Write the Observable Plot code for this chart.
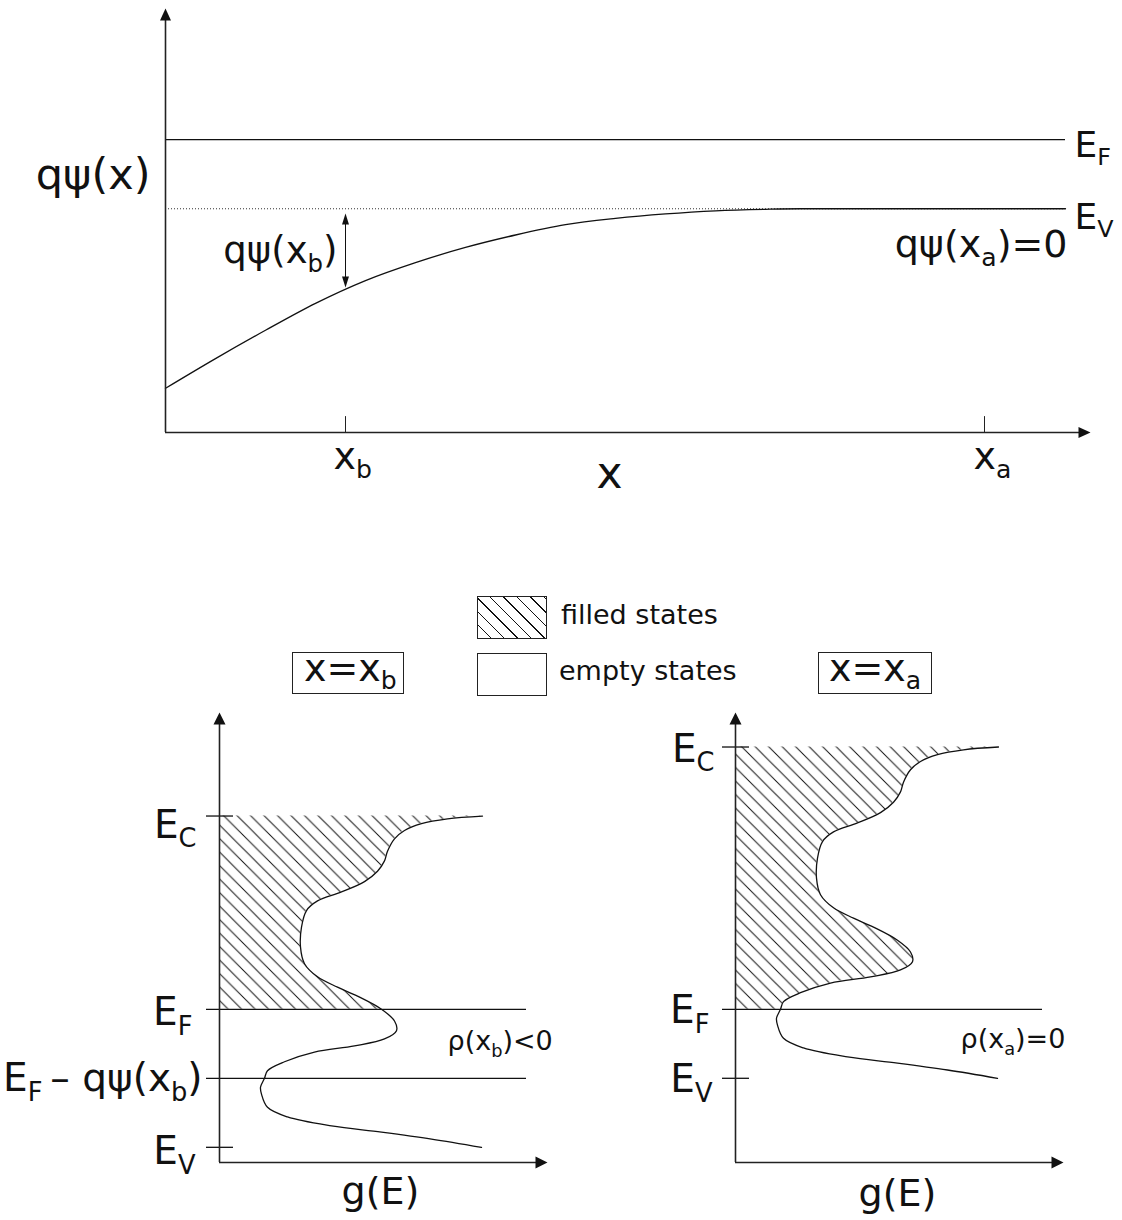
<!DOCTYPE html>
<html><head><meta charset="utf-8">
<script src="https://cdn.jsdelivr.net/npm/d3@7"></script>
<script src="https://cdn.jsdelivr.net/npm/@observablehq/plot@0.6"></script>
<style>
body{margin:0;background:#fff;font-family:"DejaVu Sans",sans-serif;}
#root{position:relative;width:1122px;height:1220px;overflow:hidden;background:#fff;}
#root svg{position:absolute;}
.box{position:absolute;border:1px solid #222;box-sizing:border-box;}
.lbl{position:absolute;white-space:nowrap;line-height:normal;color:#111;}
.lbl sub{font-size:66%;vertical-align:baseline;position:relative;top:0.3em;}
</style></head><body><div id="root"></div>
<script>
// ---------- data ----------
// top panel: band edge energy vs position (energy relative to E_V at x_a; 1 unit = q psi(x_b))
const bandX = [0, 0.5, 1.0, 1.5, 2.0, 2.5, 3.0, 3.5, 4.0, 4.5, 5.0, 5.5, 6.0, 6.35, 9.0];
const bandE = [-2.60, -2.17, -1.76, -1.37, -1.04, -0.78, -0.56, -0.38, -0.23, -0.14, -0.075, -0.03, -0.008, 0, 0];
const levelEF = 1.0, levelEV = 0;
const xb = 1.80, xa = 8.19, xEnd = 9.25, lineEnd = 9.0;
const topYMin = -3.24, topYMax = 2.90;

// density of states g(E) with E measured from the valence band edge E_V
const dosE = [4.80,4.76,4.69,4.59,4.47,4.29,4.15,4.00,3.85,3.70,3.57,3.43,3.19,2.90,2.66,2.47,2.32,2.19,2.00,1.83,1.69,1.57,1.47,1.38,1.24,1.11,1.00,0.87,0.77,0.58,0.44,0.31,0.22,0.12,0.00];
const dosG = [2.63,2.28,2.02,1.85,1.75,1.68,1.65,1.58,1.45,1.22,0.98,0.87,0.82,0.81,0.85,0.98,1.18,1.38,1.62,1.75,1.77,1.65,1.35,0.95,0.65,0.48,0.45,0.41,0.42,0.48,0.68,1.12,1.62,2.12,2.62];
const EF = 0;                 // Fermi level (bottom panels)
const qpsiB = 1.0;            // band bending at x_b
const evA = -1.0;             // E_V at x_a, relative to E_F
const evB = evA - qpsiB;      // E_V at x_b
const eMin = -2.22, eMax = 4.30, gMax = 3.28;

const legendLabels = ["filled states", "empty states"];
const panelTitles = ["x=x_b", "x=x_a"];

// ---------- helpers ----------
const svgNS = "http://www.w3.org/2000/svg";
const INK = "#111", AXIS = "#222";
const style = {fontFamily: "DejaVu Sans", color: INK, background: "transparent", overflow: "visible"};
function head(dir, len, half) {
  const p = {up: [[0,0],[half,len],[-half,len]], down: [[0,0],[half,-len],[-half,-len]], right: [[0,0],[-len,half],[-len,-half]]}[dir];
  return {draw(ctx) { ctx.moveTo(p[0][0], p[0][1]); ctx.lineTo(p[1][0], p[1][1]); ctx.lineTo(p[2][0], p[2][1]); ctx.closePath(); }};
}
const label = (s, o) => Plot.text([s], {text: d => d, lineAnchor: "bottom", fill: INK, ...o});
function addHatch(svg, id) {
  const defs = document.createElementNS(svgNS, "defs");
  defs.innerHTML = `<pattern id="${id}" patternUnits="userSpaceOnUse" width="13.5" height="13.5"><path d="M0,0L13.5,13.5M-3,10.5L3,16.5M10.5,-3L16.5,3" stroke="#111" stroke-width="1" fill="none"/></pattern>`;
  svg.insertBefore(defs, svg.firstChild);
}
function subscripts(root) {
  root.querySelectorAll("text").forEach(t => {
    const s = t.textContent;
    if (!s.includes("_")) return;
    const fs = parseFloat(getComputedStyle(t).fontSize) || 16;
    const parts = s.split(/(_.)/).filter(p => p);
    t.textContent = "";
    let shifted = false;
    for (const p of parts) {
      const ts = document.createElementNS(svgNS, "tspan");
      if (p[0] === "_") {
        ts.textContent = p.slice(1);
        ts.setAttribute("font-size", (fs * 0.66).toFixed(1));
        ts.setAttribute("dy", (fs * 0.24).toFixed(1));
        shifted = true;
      } else {
        ts.textContent = p;
        if (shifted) { ts.setAttribute("dy", (-fs * 0.24).toFixed(1)); shifted = false; }
      }
      t.appendChild(ts);
    }
  });
}
const subHTML = s => s.replace(/_(.)/g, "<sub>$1</sub>");

// ---------- top panel ----------
const band = bandX.map((x, i) => ({x, e: bandE[i]}));
const topPlot = Plot.plot({
  width: 1122, height: 500, marginLeft: 165, marginRight: 32, marginTop: 8, marginBottom: 68,
  x: {domain: [0, xEnd], axis: null}, y: {domain: [topYMin, topYMax], axis: null}, style,
  marks: [
    Plot.ruleY([levelEV], {x1: 0, x2: lineEnd, stroke: "#333", strokeWidth: 1, strokeDasharray: "1,2"}),
    Plot.ruleY([levelEF], {x1: 0, x2: lineEnd, stroke: INK, strokeWidth: 1.3}),
    Plot.line(band, {x: "x", y: "e", curve: "monotone-x", stroke: INK, strokeWidth: 1.3}),
    Plot.ruleX([0], {y1: topYMin, y2: topYMax - 0.1, stroke: AXIS, strokeWidth: 1.6}),
    Plot.ruleY([topYMin], {x1: 0, x2: xEnd - 0.05, stroke: AXIS, strokeWidth: 1.6}),
    Plot.dot([0], {x: 0, y: topYMax, symbol: head("up", 12, 5.5), fill: INK, stroke: "none"}),
    Plot.dot([0], {x: xEnd, y: topYMin, symbol: head("right", 12, 5.5), fill: INK, stroke: "none"}),
    Plot.ruleX([xb, xa], {y1: topYMin, y2: topYMin + 0.23, stroke: AXIS, strokeWidth: 1}),
    Plot.ruleX([xb], {y1: levelEV - 0.1, y2: -1.1, stroke: INK, strokeWidth: 1}),
    Plot.dot([0], {x: xb, y: levelEV - 0.07, symbol: head("up", 11, 3.5), fill: INK, stroke: "none"}),
    Plot.dot([0], {x: xb, y: -1.14, symbol: head("down", 11, 3.5), fill: INK, stroke: "none"}),
    label("qψ(x)", {x: 0, y: levelEV, dx: -15, dy: -20, textAnchor: "end", fontSize: 43}),
    label("E_F", {x: lineEnd, y: levelEF, dx: 9, dy: 17, textAnchor: "start", fontSize: 36}),
    label("E_V", {x: lineEnd, y: levelEV, dx: 9, dy: 20, textAnchor: "start", fontSize: 36}),
    label("qψ(x_a)=0", {x: lineEnd, y: levelEV, dx: 2, dy: 48, textAnchor: "end", fontSize: 38}),
    label("qψ(x_b)", {x: xb, y: levelEV, dx: -8, dy: 54, textAnchor: "end", fontSize: 37}),
    label("x_b", {x: xb, y: topYMin, dx: -12, dy: 36, textAnchor: "start", fontSize: 38}),
    label("x_a", {x: xa, y: topYMin, dx: -11, dy: 36, textAnchor: "start", fontSize: 38}),
    label("x", {x: 4.44, y: topYMin, dy: 55, textAnchor: "middle", fontSize: 44})
  ]
});
topPlot.style.left = "0px"; topPlot.style.top = "0px";

// ---------- bottom panels ----------
function panel(o) {
  const pts = dosE.map((e, i) => ({e: e + o.ev, g: dosG[i]}));
  const filled = pts.filter(d => d.e >= EF - 1e-9);
  const eC = o.ev + dosE[0];
  const p = Plot.plot({
    width: o.width, height: 520, marginLeft: o.ml, marginRight: o.mr, marginTop: 12, marginBottom: 58,
    x: {domain: [0, gMax], axis: null}, y: {domain: [eMin, eMax], axis: null}, style,
    marks: [
      Plot.areaX(filled, {y: "e", x1: 0, x2: "g", fill: `url(#${o.id})`, curve: "catmull-rom"}),
      Plot.ruleY(o.lines, {x1: -0.13, x2: 3.07, stroke: INK, strokeWidth: 1.3}),
      Plot.ruleY([eC, o.ev], {x1: -0.13, x2: 0.14, stroke: INK, strokeWidth: 1.3}),
      Plot.line(pts, {x: "g", y: "e", curve: "catmull-rom", stroke: INK, strokeWidth: 1.3}),
      Plot.ruleX([0], {y1: eMin, y2: eMax - 0.1, stroke: AXIS, strokeWidth: 1.6}),
      Plot.ruleY([eMin], {x1: 0, x2: gMax - 0.05, stroke: AXIS, strokeWidth: 1.6}),
      Plot.dot([0], {x: 0, y: eMax, symbol: head("up", 12, 6), fill: INK, stroke: "none"}),
      Plot.dot([0], {x: gMax, y: eMin, symbol: head("right", 12, 6), fill: INK, stroke: "none"}),
      label("E_C", {x: 0, y: eC, dx: o.cdx, dy: o.cdy, textAnchor: "end", fontSize: 39}),
      ...o.labels,
      label(o.rho, {x: o.rhoX, y: EF, dy: o.rhoDy, textAnchor: "start", fontSize: 27}),
      label("g(E)", {x: o.gx, y: eMin, dy: o.gdy, textAnchor: "middle", fontSize: 38})
    ]
  });
  addHatch(p, o.id);
  return p;
}
const left = panel({
  id: "hatchB", ev: evB, width: 560, ml: 219, mr: 13, lines: [EF, EF - qpsiB],
  cdx: -23, cdy: 22, rho: "ρ(x_b)<0", rhoX: 2.28, rhoDy: 41, gx: 1.61, gdy: 41,
  labels: [
    label("E_F", {x: 0, y: EF, dx: -27, dy: 16, textAnchor: "end", fontSize: 39}),
    label("E_F\u2009– qψ(x_b)", {x: 0, y: EF - qpsiB, dx: -17, dy: 13, textAnchor: "end", fontSize: 39}),
    label("E_V", {x: 0, y: evB, dx: -24, dy: 17, textAnchor: "end", fontSize: 39})
  ]
});
left.style.left = "0px"; left.style.top = "700px";
const right = panel({
  id: "hatchA", ev: evA, width: 562, ml: 175, mr: 59, lines: [EF],
  cdx: -21, cdy: 15, rho: "ρ(x_a)=0", rhoX: 2.25, rhoDy: 39, gx: 1.62, gdy: 43,
  labels: [
    label("E_F", {x: 0, y: EF, dx: -26, dy: 14, textAnchor: "end", fontSize: 39}),
    label("E_V", {x: 0, y: evA, dx: -23, dy: 14, textAnchor: "end", fontSize: 39})
  ]
});
right.style.left = "560px"; right.style.top = "700px";

const root = document.getElementById("root");
root.append(topPlot, left, right);
subscripts(root);

// ---------- legend and panel titles ----------
root.insertAdjacentHTML("beforeend", `
<div class="box" style="left:477px;top:596px;width:70px;height:43px;background:repeating-linear-gradient(45deg,transparent 0 8.5px,#111 8.5px 9.5px)"></div>
<div class="lbl" style="left:561px;top:599px;font-size:27px">${legendLabels[0]}</div>
<div class="box" style="left:477px;top:653px;width:70px;height:43px"></div>
<div class="lbl" style="left:559px;top:655px;font-size:27px">${legendLabels[1]}</div>
<div class="box" style="left:292px;top:652px;width:112px;height:42px"></div>
<div class="lbl" style="left:304px;top:646px;font-size:38px">${subHTML(panelTitles[0])}</div>
<div class="box" style="left:818px;top:652px;width:114px;height:42px"></div>
<div class="lbl" style="left:829px;top:646px;font-size:38px">${subHTML(panelTitles[1])}</div>
`);
</script></body></html>
